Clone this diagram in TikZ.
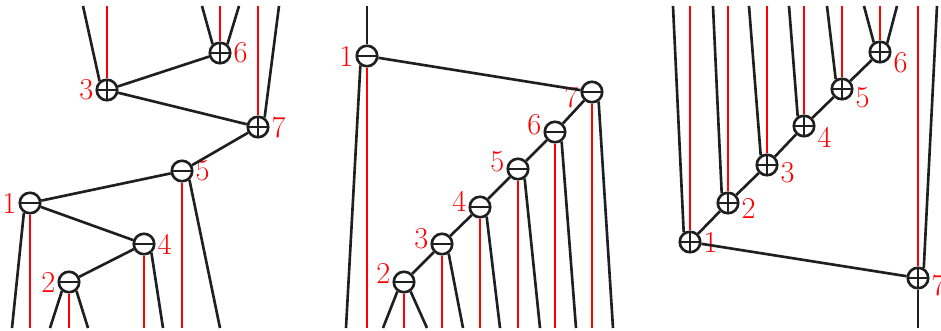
\documentclass[tikz,border=0pt]{standalone}
\usepackage{tikz}

\begin{document}
\begin{tikzpicture}[x=0.02cm,y=-0.02cm,
  leg/.style={line width=1.5pt,black!88},
  idx/.style={red,line width=0.7pt},
  num/.style={text=red,font=\LARGE,inner sep=1pt},
  gate/.style={circle,draw=black!88,line width=1.5pt,minimum size=0.41cm,
    inner sep=0pt,label distance=0pt},
  pl/.style={gate,path picture={\draw[line width=1.2pt,black!88]
      (path picture bounding box.north) -- (path picture bounding box.south)
      (path picture bounding box.west) -- (path picture bounding box.east);}},
  mi/.style={gate,path picture={\draw[line width=1.2pt,black!88]
      (path picture bounding box.west) -- (path picture bounding box.east);}}]
  \useasboundingbox (0,0) rectangle (941,331);
  \coordinate (T) at (0,6);
  \coordinate (B) at (0,328);
  % ---------------- left tree ----------------
  \begin{scope}
    \node[pl,label={[num]left:3}]  (a3) at (107,90) {};
    \node[pl,label={[num]right:6}] (a6) at (220,53) {};
    \node[pl,label={[num]right:7}] (a7) at (258,127) {};
    \node[mi,label={[num]right:5}] (a5) at (182,171) {};
    \node[mi,label={[num]left:1}]  (a1) at (30,203) {};
    \node[mi,label={[num]right:4}] (a4) at (144,244) {};
    \node[mi,label={[num]left:2}]  (a2) at (69,282) {};
    % loose ends
    \coordinate (a3u) at (83,6);
    \coordinate (a6u) at (202,6);
    \coordinate (a6v) at (239,6);
    \coordinate (a7u) at (279,6);
    \coordinate (a5d) at (220,328);
    \coordinate (a1d) at (12,328);
    \coordinate (a4d) at (163,328);
    \coordinate (a2d) at (50,328);
    \coordinate (a2e) at (88,328);
    % edges
    \draw[leg] (a3) -- (a6);
    \draw[leg] (a3) -- (a7);
    \draw[leg] (a7) -- (a5);
    \draw[leg] (a5) -- (a1);
    \draw[leg] (a1) -- (a4);
    \draw[leg] (a4) -- (a2);
    % legs
    \draw[leg] (a3.130) -- (a3u);
    \draw[leg] (a6.130) -- (a6u);
    \draw[leg] (a6.50) -- (a6v);
    \draw[leg] (a7.55) -- (a7u);
    \draw[leg] (a5.310) -- (a5d);
    \draw[leg] (a1.238) -- (a1d);
    \draw[leg] (a4.310) -- (a4d);
    \draw[leg] (a2.232) -- (a2d);
    \draw[leg] (a2.310) -- (a2e);
    % index lines
    \foreach \n in {a3,a6,a7} \draw[idx] (\n) -- (\n |- T);
    \foreach \n in {a5,a1,a4,a2} \draw[idx] (\n) -- (\n |- B);
  \end{scope}
  % ---------------- middle chain ----------------
  \begin{scope}
    \node[mi,label={[num]left:1}]                 (b1) at (367,56) {};
    \node[mi,label={[num,yshift=-0.1cm]left:7}]   (b7) at (592,92) {};
    \node[mi,label={[num,yshift=0.14cm]left:6}]   (b6) at (555,132) {};
    \node[mi,label={[num,yshift=0.14cm]left:5}]   (b5) at (518,169) {};
    \node[mi,label={[num,yshift=0.12cm]left:4}]   (b4) at (480,207) {};
    \node[mi,label={[num,yshift=0.1cm]left:3}]    (b3) at (442,244) {};
    \node[mi,label={[num,yshift=0.17cm]left:2}]   (b2) at (404,282) {};
    % loose ends
    \coordinate (b1d) at (346,328);
    \coordinate (b7d) at (613,328);
    \coordinate (b6d) at (576,328);
    \coordinate (b5d) at (540,328);
    \coordinate (b4d) at (500,328);
    \coordinate (b3d) at (463,328);
    \coordinate (b2d) at (383,328);
    \coordinate (b2e) at (427,328);
    % edges
    \draw[leg] (b1) -- (b7);
    \draw[leg] (b7) -- (b6);
    \draw[leg] (b6) -- (b5);
    \draw[leg] (b5) -- (b4);
    \draw[leg] (b4) -- (b3);
    \draw[leg] (b3) -- (b2);
    % legs
    \draw[leg] (b1) -- (b1 |- T);
    \draw[leg] (b1.235) -- (b1d);
    \foreach \n in {b7,b6,b5,b4,b3} \draw[leg] (\n.305) -- (\n d);
    \draw[leg] (b2.235) -- (b2d);
    \draw[leg] (b2.305) -- (b2e);
    % index lines
    \foreach \n in {b1,b2,b3,b4,b5,b6,b7} \draw[idx] (\n) -- (\n |- B);
  \end{scope}
  % ---------------- right chain ----------------
  \begin{scope}
    \node[pl,label={[num]right:1}]                (c1) at (690,242) {};
    \node[pl,label={[num,yshift=-0.1cm]right:2}]  (c2) at (728,203) {};
    \node[pl,label={[num,yshift=-0.16cm]right:3}] (c3) at (767,165) {};
    \node[pl,label={[num,yshift=-0.22cm]right:4}] (c4) at (804,126) {};
    \node[pl,label={[num,yshift=-0.18cm]right:5}] (c5) at (842,89) {};
    \node[pl,label={[num,yshift=-0.22cm]right:6}] (c6) at (880,52) {};
    \node[pl,label={[num,yshift=-0.14cm]right:7}] (c7) at (918,278) {};
    % loose ends
    \coordinate (c1u) at (673,6);
    \coordinate (c2u) at (713,6);
    \coordinate (c3u) at (749,6);
    \coordinate (c4u) at (789,6);
    \coordinate (c5u) at (827,6);
    \coordinate (c6u) at (864,6);
    \coordinate (c6v) at (897,6);
    \coordinate (c7u) at (937,6);
    % edges
    \draw[leg] (c1) -- (c2);
    \draw[leg] (c2) -- (c3);
    \draw[leg] (c3) -- (c4);
    \draw[leg] (c4) -- (c5);
    \draw[leg] (c5) -- (c6);
    \draw[leg] (c1) -- (c7);
    % legs
    \foreach \n in {c1,c2,c3,c4,c5,c6} \draw[leg] (\n.123) -- (\n u);
    \draw[leg] (c6.51) -- (c6v);
    \draw[leg] (c7.60) -- (c7u);
    \draw[leg] (c7) -- (c7 |- B);
    % index lines
    \foreach \n in {c1,c2,c3,c4,c5,c6,c7} \draw[idx] (\n) -- (\n |- T);
  \end{scope}
\end{tikzpicture}
\end{document}
